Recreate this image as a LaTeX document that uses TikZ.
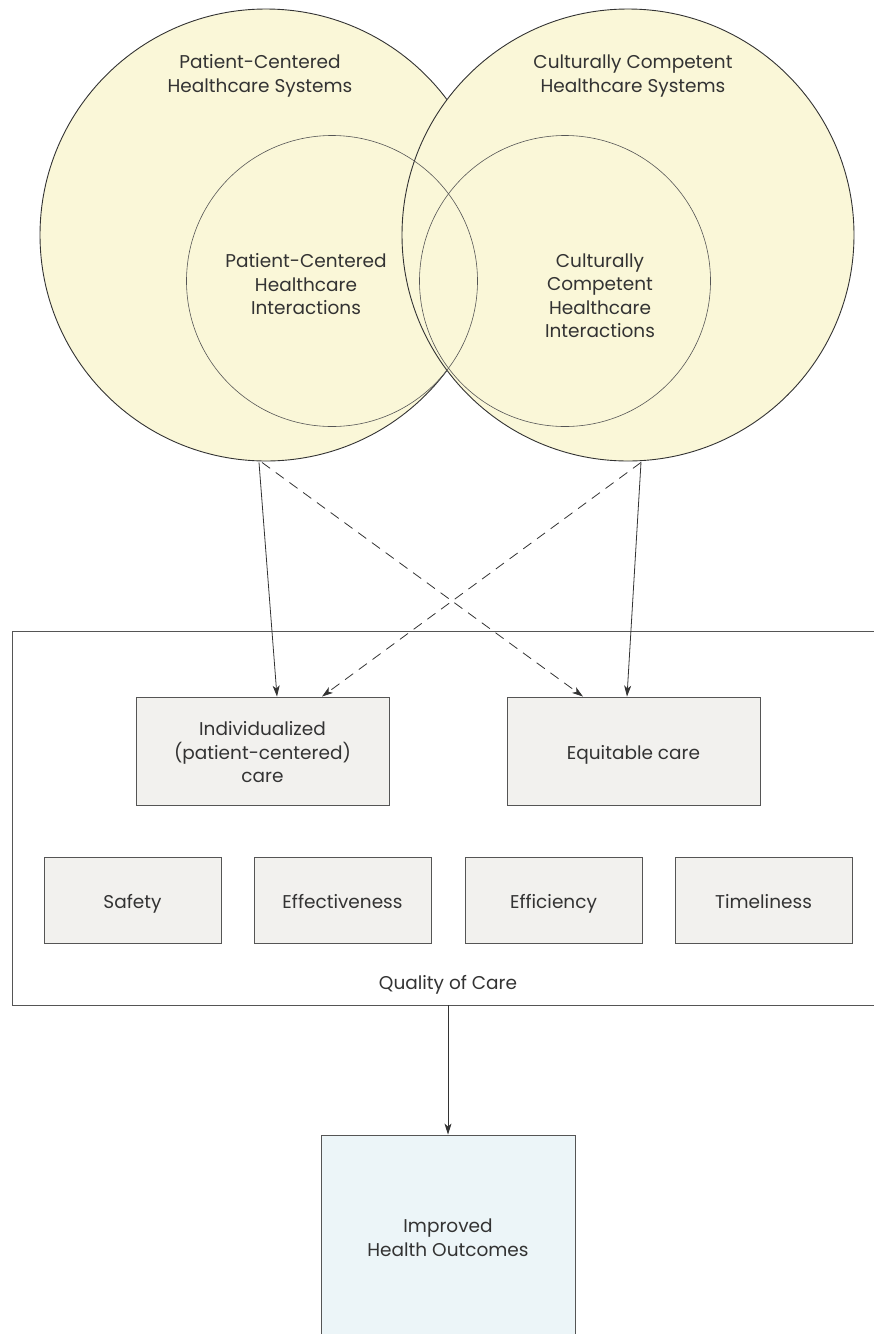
\documentclass[tikz,border=0pt]{standalone}
\usepackage{fontspec}
\setmainfont{Poppins}
\usetikzlibrary{arrows.meta}
\definecolor{circfill}{HTML}{FAF7D8}
\definecolor{boxfill}{HTML}{F2F1EE}
\definecolor{outfill}{HTML}{ECF5F8}
\definecolor{ink}{HTML}{333333}
\definecolor{edge}{HTML}{555555}
\newcommand{\topstrut}{\rule{0pt}{23.4pt}}
\newcommand{\botstrut}{\rule[-6.65pt]{0pt}{6.65pt}}
\tikzset{
  txtfont/.style={font=\fontsize{18.5}{23.5}\selectfont, execute at begin node={\topstrut}, execute at end node={\botstrut}},
  bigcirc/.style={circle, draw=ink, line width=0.9pt, fill=circfill, minimum size=452pt, inner sep=0pt},
  smallcirc/.style={circle, draw=edge, line width=0.6pt, minimum size=291pt, inner sep=0pt},
  lbl/.style={align=center, text=ink, txtfont, inner sep=0pt},
  qbox/.style={draw=edge, line width=0.9pt, fill=boxfill, text=ink, align=center, txtfont, inner sep=0pt},
  arr/.style={draw=ink, line width=0.8pt, -{Stealth[length=11pt,width=7pt,inset=3pt]}},
  darr/.style={arr, dash pattern=on 10pt off 7pt},
}
\begin{document}
\begin{tikzpicture}[x=1pt,y=-1pt]
\useasboundingbox (0,0) rectangle (874,1334);
\clip (0,0) rectangle (874,1334);
% circles
\node[bigcirc] (L) at (266,235) {};
\node[bigcirc] (R) at (628,235) {};
\node[smallcirc] (Li) at (332,281) {};
\node[smallcirc] (Ri) at (565,281) {};
\node[lbl] (Lt) at (260,72) {\topstrut Patient-Centered\\Healthcare Systems\botstrut};
\node[lbl] (Rt) at (633,72) {\topstrut Culturally Competent\\Healthcare Systems\botstrut};
\node[lbl] (Lit) at (306,283) {\topstrut Patient-Centered\\Healthcare\\Interactions\botstrut};
\node[lbl] (Rit) at (600,294) {\topstrut Culturally\\Competent\\Healthcare\\Interactions\botstrut};
% quality of care frame
\node[draw=edge, line width=0.9pt, minimum width=868pt, minimum height=374pt, inner sep=0pt] (Q) at (446,818) {};
\node[lbl] (Qt) at (448,981) {Quality of Care};
% boxes
\node[qbox, minimum width=253pt, minimum height=108pt] (I) at (262.5,751) {\topstrut Individualized\\(patient-centered)\\care\botstrut};
\node[qbox, minimum width=253pt, minimum height=108pt] (E) at (633.5,751) {Equitable care};
\node[qbox, minimum width=177pt, minimum height=86pt] (S) at (132.5,900) {Safety};
\node[qbox, minimum width=177pt, minimum height=86pt] (Ef) at (342.5,900) {Effectiveness};
\node[qbox, minimum width=177pt, minimum height=86pt] (Ec) at (553.5,900) {Efficiency};
\node[qbox, minimum width=177pt, minimum height=86pt] (T) at (763.5,900) {Timeliness};
% outcome
\node[draw=edge, line width=0.9pt, fill=outfill, text=ink, align=center, txtfont, inner sep=0pt, minimum width=254pt, minimum height=202pt] (H) at (448,1236) {\topstrut Improved\\Health Outcomes\botstrut};
% arrows
\draw[arr] ([shift={(-7,1)}]L.south) -- ([xshift=14.5pt]I.north);
\draw[darr] ([shift={(-4,1)}]L.south) -- ([xshift=-50.5pt]E.north);
\draw[darr] ([shift={(13,1)}]R.south) -- ([xshift=59.5pt]I.north);
\draw[arr] ([shift={(13,1)}]R.south) -- ([xshift=-6.5pt]E.north);
\draw[arr] (Q.south -| H.north) -- (H.north);
\end{tikzpicture}
\end{document}
